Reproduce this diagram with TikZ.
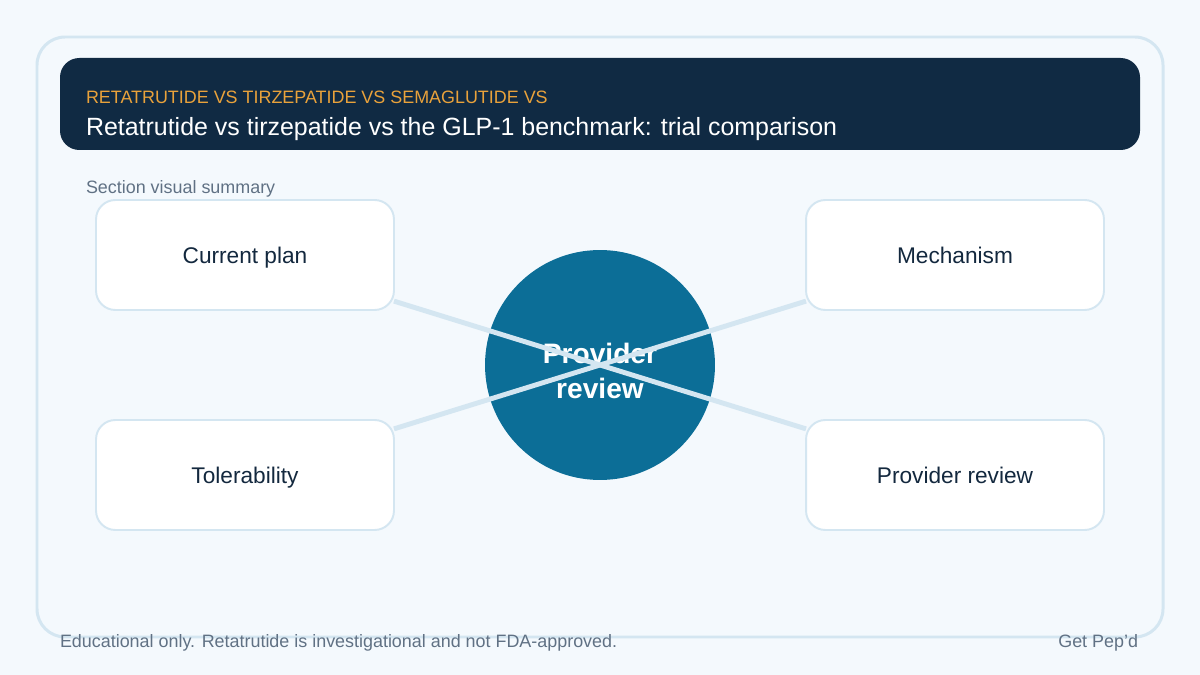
\documentclass[tikz,border=0pt]{standalone}
\usepackage{fontspec}
\setmainfont{Liberation Sans}
\definecolor{pagebg}{HTML}{F4F9FD}
\definecolor{edgeblue}{HTML}{D4E6F1}
\definecolor{navy}{HTML}{102A43}
\definecolor{accent}{HTML}{E9A23B}
\definecolor{hubblue}{HTML}{0C6E97}
\definecolor{inkdark}{HTML}{13283E}
\definecolor{muted}{HTML}{607184}
\begin{document}
\begin{tikzpicture}[x=0.02cm, y=-0.02cm, every node/.style={inner sep=0pt, outer sep=0pt},
    card/.style={draw=edgeblue, line width=1.1pt, fill=white, rounded corners=11pt,
      minimum width=5.96cm, minimum height=2.2cm, text height=1em, text depth=0pt,
      text=inkdark, font=\fontsize{12.9}{15}\selectfont},
    link/.style={draw=edgeblue, line width=2.8pt},
    hub/.style={circle, fill=hubblue, minimum size=4.6cm},
    hublabel/.style={text=white, align=center, font=\bfseries\fontsize{16}{20}\selectfont},
    note/.style={text=muted, font=\fontsize{10.2}{12}\selectfont}]
    % page and frame
    \fill[pagebg] (0,0) rectangle (1200,675);
    \useasboundingbox (0,0) rectangle (1200,675);
    \draw[edgeblue, line width=1.7pt, rounded corners=16pt] (37,37) rectangle (1163,637);
    % header band
    \fill[navy, rounded corners=11pt] (60,58) rectangle (1140,150);
    \node[anchor=base west, text=accent, font=\fontsize{10.2}{12}\selectfont] (kicker) at (86,104)
      {RETATRUTIDE VS TIRZEPATIDE VS SEMAGLUTIDE VS};
    \node[anchor=base west, text=white, font=\fontsize{14.2}{17}\selectfont] (title) at (86,136)
      {Retatrutide vs tirzepatide vs the GLP-1 benchmark: trial comparison};
    \node[note, anchor=base west] (section) at (86,194) {Section visual summary};
    % hub and cards
    \node[hub] (hub) at (600,365) {};
    \node[hublabel] (hubtext) at (600,371) {Provider\\review};
    \node[card] (plan) at (245,255) {Current plan};
    \node[card] (mech) at (955,255) {Mechanism};
    \node[card] (toler) at (245,475) {Tolerability};
    \node[card] (review) at (955,475) {Provider review};
    \draw[link] (plan) -- (review);
    \draw[link] (toler) -- (mech);
    % footer
    \node[note, anchor=base west] (disclaimer) at (60,647)
      {Educational only. Retatrutide is investigational and not FDA-approved.};
    \node[note, anchor=base east] (brand) at (1138,647) {Get Pep'd};
\end{tikzpicture}
\end{document}
